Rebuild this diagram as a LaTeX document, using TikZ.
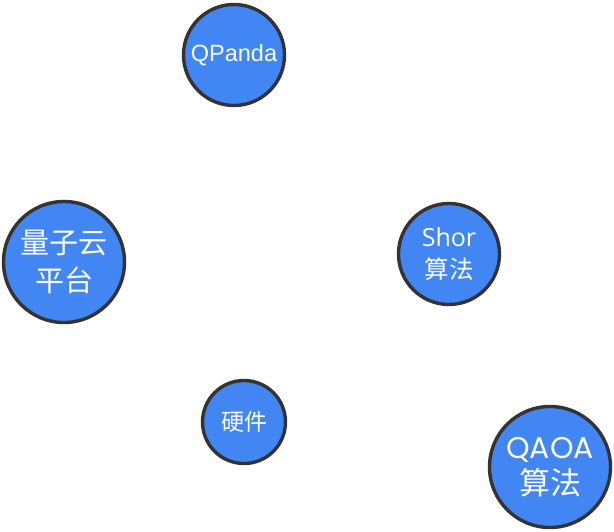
\documentclass[tikz,border=0pt]{standalone}
\usepackage{fontspec}
\newfontfamily\cjk{Noto Sans CJK SC}
\newfontfamily\arialfont{Liberation Sans}
\newfontfamily\opensans{Open Sans}
\newfontfamily\poppins{Poppins}
\definecolor{topicblue}{RGB}{66,134,244}
\definecolor{rimgrey}{RGB}{51,51,51}
\tikzstyle{topic}=[
	circle,
	draw=rimgrey,
	line width=3.4pt,
	fill=topicblue,
	text=white,
	inner sep=0pt,
	align=center
]

\begin{document}
\begin{tikzpicture}[x=1pt,y=-1pt]
\useasboundingbox (0,0) rectangle (614,532);
\node [topic, minimum size=101pt, font=\arialfont\fontsize{23.5}{26}\selectfont] (QPanda) at (234,55) {QPanda};
\node [topic, minimum size=121pt, font=\cjk\fontsize{29}{38}\selectfont] (Cloud) at (64,262) {量子云\\平台};
\node [topic, minimum size=101pt, font=\cjk\fontsize{24.5}{31.5}\selectfont] (Shor) at (449,254) {{\opensans\fontsize{25}{31.5}\selectfont Shor}\\算法};
\node [topic, minimum size=83pt, font=\cjk\fontsize{23}{26}\selectfont] (Hardware) at (244,422) {硬件};
\node [topic, minimum size=121pt, font=\cjk\fontsize{31}{36}\selectfont] (QAOA) at (550,467) {{\poppins\fontsize{30}{36}\selectfont QAOA}\\算法};
\end{tikzpicture}
\end{document}
